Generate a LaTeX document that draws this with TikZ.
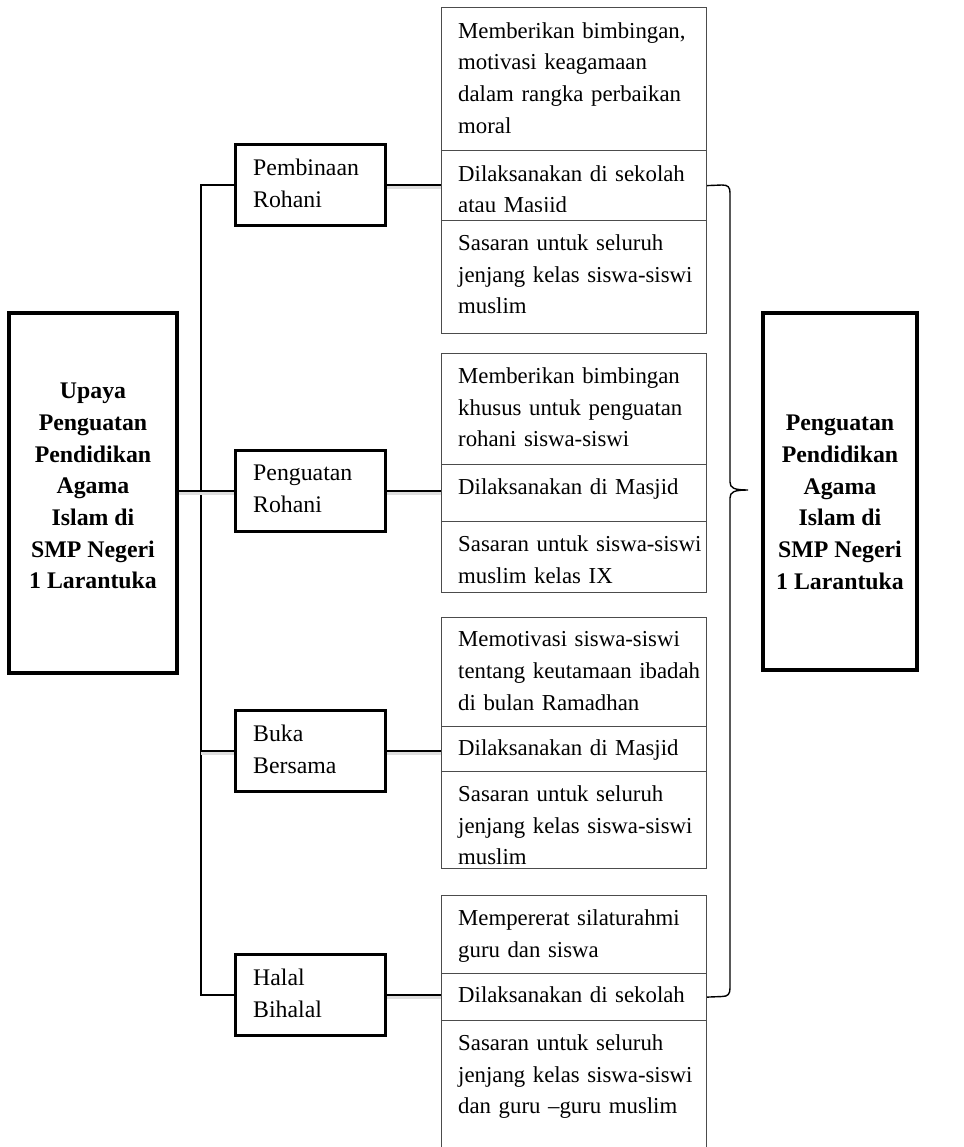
\documentclass[tikz,border=0pt]{standalone}
\usepackage{fontspec}
\setmainfont{Liberation Serif}
\begin{document}
\begin{tikzpicture}[x=1pt,y=-1pt,
  cell/.style={draw=black!70, line width=1.2pt, fill=white, minimum width=265pt, anchor=north west, inner sep=0pt},
  celltext/.style={anchor=north west, inner sep=0pt, text width=255pt, align=left, font=\fontsize{22.8}{31.7}\selectfont},
  midbox/.style={draw, line width=3pt, fill=white, minimum width=150pt, minimum height=81pt, inner sep=0pt},
  midtext/.style={anchor=north west, inner sep=0pt, align=left, font=\fontsize{23.8}{31.7}\selectfont},
  bigbox/.style={draw, line width=4pt, fill=white, inner sep=0pt},
  bigtext/.style={anchor=north, inner sep=0pt, align=center, font=\fontsize{23.8}{31.7}\selectfont\bfseries},
  conn/.style={line width=2.6pt, preaction={draw=black!13, line width=3.5pt, transform canvas={yshift=-2pt}}},
  trunk/.style={line width=2.4pt},
  brace/.style={line width=1.4pt}
]
\useasboundingbox (0,0) rectangle (963,1147);

% big boxes
\node[bigbox, minimum width=168pt, minimum height=360pt] (L) at (93,493) {};
\node[bigtext] (Lt) at (93,383) {Upaya\\Penguatan\\Pendidikan\\Agama\\Islam di\\SMP Negeri\\1 Larantuka};
\node[bigbox, minimum width=154pt, minimum height=357pt] (R) at (840,491.5) {};
\node[bigtext] (Rt) at (840,415) {Penguatan\\Pendidikan\\Agama\\Islam di\\SMP Negeri\\1 Larantuka};

% group 1
\node[cell, minimum height=143pt] (r1a) at (441,7) {};
\node[celltext] (t1a) at (458,22.1) {Memberikan bimbingan,\\motivasi keagamaan\\dalam rangka perbaikan\\moral};
\node[cell, minimum height=70pt] (r1b) at (441,150) {};
\begin{scope}
\clip (441,150) rectangle (706,212);
\node[celltext] (t1b) at (458,165.1) {Dilaksanakan di sekolah\\atau Masjid};
\end{scope}
\node[cell, minimum height=113pt] (r1c) at (441,220) {};
\node[celltext] (t1c) at (458,234.4) {Sasaran untuk seluruh\\jenjang kelas siswa-siswi\\muslim};

% group 2
\node[cell, minimum height=111pt] (r2a) at (441,353) {};
\node[celltext] (t2a) at (458,367.4) {Memberikan bimbingan\\khusus untuk penguatan\\rohani siswa-siswi};
\node[cell, minimum height=57pt] (r2b) at (441,464) {};
\node[celltext] (t2b) at (458,478.1) {Dilaksanakan di Masjid};
\node[cell, minimum height=71pt] (r2c) at (441,521) {};
\node[celltext] (t2c) at (458,535.4) {Sasaran untuk siswa-siswi\\muslim kelas IX};

% group 3
\node[cell, minimum height=109pt] (r3a) at (441,617) {};
\node[celltext] (t3a) at (458,631.4) {Memotivasi siswa-siswi\\tentang keutamaan ibadah\\di bulan Ramadhan};
\node[cell, minimum height=45pt] (r3b) at (441,726) {};
\node[celltext] (t3b) at (458,739.6) {Dilaksanakan di Masjid};
\node[cell, minimum height=97pt] (r3c) at (441,771) {};
\node[celltext] (t3c) at (458,785.4) {Sasaran untuk seluruh\\jenjang kelas siswa-siswi\\muslim};

% group 4
\node[cell, minimum height=78pt] (r4a) at (441,895) {};
\node[celltext] (t4a) at (458,909.4) {Mempererat silaturahmi\\guru dan siswa};
\node[cell, minimum height=47pt] (r4b) at (441,973) {};
\node[celltext] (t4b) at (458,986.1) {Dilaksanakan di sekolah};
\node[cell, minimum height=160pt] (r4c) at (441,1020) {};
\node[celltext] (t4c) at (458,1034.4) {Sasaran untuk seluruh\\jenjang kelas siswa-siswi\\dan guru --guru muslim};

% middle boxes
\node[midbox] (m1) at (310.5,185) {};
\node[midtext] (mt1) at (253,158.7) {Pembinaan\\Rohani};
\node[midbox] (m2) at (310.5,491) {};
\node[midtext] (mt2) at (253,464.7) {Penguatan\\Rohani};
\node[midbox] (m3) at (310.5,751) {};
\node[midtext] (mt3) at (253,724.7) {Buka\\Bersama};
\node[midbox] (m4) at (310.5,995) {};
\node[midtext] (mt4) at (253,968.7) {Halal\\Bihalal};

% connectors
\coordinate (trk) at (201,0);
\draw[trunk] (m1.west) -- (m1.west -| trk) -- (m4.west -| trk) -- (m4.west);
\draw[conn] (m2.west -| trk) -- (m2.west);
\draw[conn] (m3.west -| trk) -- (m3.west);
\draw[conn] (L.east |- m2.west) -- (m2.west -| trk);
\draw[conn] (m1.east) -- (m1.east -| r1b.west);
\draw[conn] (m2.east) -- (m2.east -| r2b.west);
\draw[conn] (m3.east) -- (m3.east -| r3b.west);
\draw[conn] (m4.east) -- (m4.east -| r4b.west);

% brace
\coordinate (tip) at (748,490);
\draw[brace] (r1b.east) -- (722,185) .. controls (728,185) and (730,187) .. (730,193)
  -- (730,482) .. controls (730,488) and (734,490) .. (tip)
  .. controls (734,490) and (730,492) .. (730,498)
  -- (730,988) .. controls (730,994) and (728,996.5) .. (722,996.5) -- (r4b.east);
\end{tikzpicture}
\end{document}
